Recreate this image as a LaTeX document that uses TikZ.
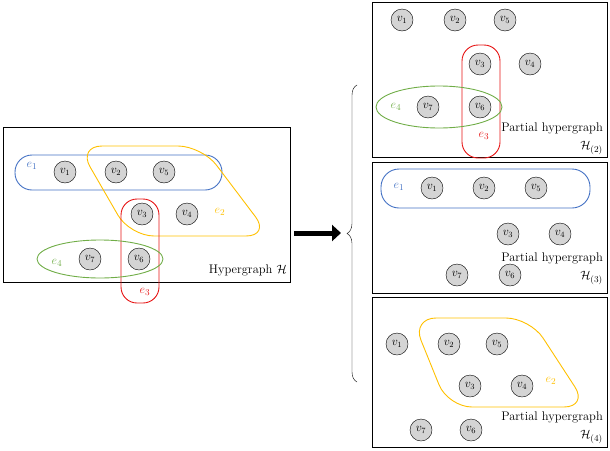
\documentclass[tikz,border=0pt]{standalone}
\usetikzlibrary{decorations.pathreplacing,arrows.meta}
\definecolor{eblue}{RGB}{68,114,196}
\definecolor{eorange}{RGB}{255,192,0}
\definecolor{ered}{RGB}{230,20,20}
\definecolor{egreen}{RGB}{112,173,71}
\begin{document}
\begin{tikzpicture}[x=1pt,y=-1pt,
  v/.style={circle,draw,fill=black!17,minimum size=22pt,inner sep=0pt,font=\fontsize{12}{14}\selectfont},
  box/.style={draw,line width=0.6pt},
  he/.style={line width=0.9pt},
  lab/.style={font=\fontsize{12.5}{15}\selectfont,inner sep=1pt}]
\useasboundingbox (0,0) rectangle (610,450);
% left
\draw[box] (3,127) rectangle (290,282);
\foreach \n/\x/\y/\t in {a1/65/172/1,a2/116/172/2,a5/164/172/5,a3/142/214/3,a4/187/214/4,a7/90/259/7,a6/139/259/6}
  \node[v] (\n) at (\x,\y) {$v_{\t}$};
\draw[he,eblue,rounded corners=17pt] (15,155) rectangle (222,190);
\draw[he,eorange,rounded corners=24pt] (78,146)--(202,146)--(270,236)--(130,236)--cycle;
\draw[he,ered,rounded corners=16pt] (121,199) rectangle (159,303);
\draw[he,egreen] (100,259) ellipse (63pt and 19pt);
\node[lab,eblue] (ae1) at (32,166) {$e_1$};
\node[lab,eorange] (ae2) at (220,212) {$e_2$};
\node[lab,ered] (ae3) at (145,292) {$e_3$};
\node[lab,egreen] (ae4) at (57,263) {$e_4$};
\node[lab,anchor=east] (lh) at (288,270) {Hypergraph $\mathcal{H}$};
% arrow and brace
\coordinate (as) at (294,233); \coordinate (ae) at (341,233);
\draw[line width=5pt,-{Triangle[length=9pt,width=16pt]}] (as)--(ae);
\coordinate (b1) at (357,382); \coordinate (b2) at (357,85);
\draw[decorate,decoration={brace,amplitude=10pt}] (b1)--(b2);
% box 1
\draw[box] (372,2) rectangle (607,157);
\foreach \n/\x/\y/\t in {b1/402/20/1,b2/455/20/2,b5/505/20/5,b3/480/64/3,b4/530/64/4,b7/428/107/7,b6/480/107/6}
  \node[v] (\n) at (\x,\y) {$v_{\t}$};
\draw[he,ered,rounded corners=16pt] (462,45) rectangle (500,158);
\draw[he,egreen] (439,107) ellipse (63pt and 21pt);
\node[lab,ered] (be3) at (484,136) {$e_3$};
\node[lab,egreen] (be4) at (396,107) {$e_4$};
\node[lab,anchor=east] (bt) at (604,128) {Partial hypergraph};
\node[lab,anchor=east] (bh) at (604,148) {$\mathcal{H}_{(2)}$};
% box 2
\draw[box] (372,162) rectangle (607,293);
\foreach \n/\x/\y/\t in {c1/432/188/1,c2/484/188/2,c5/536/188/5,c3/508/234/3,c4/560/234/4,c7/457/275/7,c6/510/275/6}
  \node[v] (\n) at (\x,\y) {$v_{\t}$};
\draw[he,eblue,rounded corners=18pt] (381,169) rectangle (590,208);
\node[lab,eblue] (ce1) at (399,187) {$e_1$};
\node[lab,anchor=east] (ct) at (604,258) {Partial hypergraph};
\node[lab,anchor=east] (ch) at (604,278) {$\mathcal{H}_{(3)}$};
% box 3
\draw[box] (372,297) rectangle (607,447);
\foreach \n/\x/\y/\t in {d1/397/344/1,d2/449/344/2,d5/497/344/5,d3/470/386/3,d4/522/386/4,d7/421/430/7,d6/471/430/6}
  \node[v] (\n) at (\x,\y) {$v_{\t}$};
\draw[he,eorange,rounded corners=24pt] (412,318)--(530,318)--(588,407)--(448,407)--cycle;
\node[lab,eorange] (de2) at (551,381) {$e_2$};
\node[lab,anchor=east] (dt) at (604,417) {Partial hypergraph};
\node[lab,anchor=east] (dh) at (604,437) {$\mathcal{H}_{(4)}$};
\end{tikzpicture}
\end{document}
